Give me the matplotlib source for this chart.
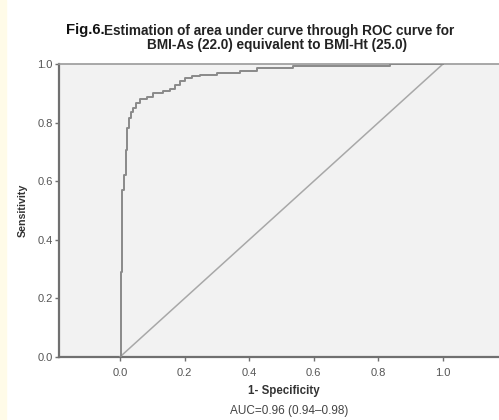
import matplotlib
matplotlib.use('Agg')
from matplotlib import pyplot as plt
from matplotlib.patches import Rectangle

plt.rcParams['font.family'] = ['Liberation Sans', 'DejaVu Sans']

# ROC curve points (1 - specificity, sensitivity)
fpr = [0.0, 0.003, 0.003, 0.008, 0.008, 0.013, 0.013, 0.018, 0.018, 0.023, 0.023,
       0.027, 0.027, 0.033, 0.033, 0.041, 0.041, 0.05, 0.05, 0.062, 0.062, 0.083,
       0.083, 0.103, 0.103, 0.134, 0.134, 0.155, 0.155, 0.17, 0.17, 0.186, 0.186,
       0.20, 0.20, 0.222, 0.222, 0.248, 0.248, 0.30, 0.30, 0.372, 0.372, 0.423,
       0.423, 0.536, 0.536, 0.836, 0.836, 1.0]
tpr = [0.0, 0.0, 0.29, 0.29, 0.57, 0.57, 0.62, 0.62, 0.707, 0.707, 0.78,
       0.78, 0.816, 0.816, 0.837, 0.837, 0.85, 0.85, 0.868, 0.868, 0.879, 0.879,
       0.888, 0.888, 0.902, 0.902, 0.908, 0.908, 0.914, 0.914, 0.928, 0.928, 0.943,
       0.943, 0.953, 0.953, 0.959, 0.959, 0.962, 0.962, 0.968, 0.968, 0.976, 0.976,
       0.985, 0.985, 0.993, 0.993, 1.0, 1.0]
ref_line = [0.0, 1.0]
ticks = [0.0, 0.2, 0.4, 0.6, 0.8, 1.0]
tick_labels = ['0.0', '0.2', '0.4', '0.6', '0.8', '1.0']

fig = plt.figure(figsize=(4.99, 4.2), dpi=100)
# cream strip down the left edge of the scanned figure
fig.patches.append(Rectangle((0, 0), 6 / 499, 1, transform=fig.transFigure,
                             color='#fffbe8', zorder=0))

ax = fig.add_axes([0.1192, 0.15, 0.898, 0.6976])
ax.set_facecolor('#f2f2f2')
ax.plot(ref_line, ref_line, color='#a8a8a8', lw=1.1, zorder=2)
ax.plot(fpr, tpr, color='#8a8a8a', lw=1.4, zorder=3)
ax.set_xlim(-0.187, 1.2)
ax.set_ylim(0, 1)

for side in ['left', 'bottom']:
    ax.spines[side].set_color('#707070')
    ax.spines[side].set_linewidth(1.6)
ax.spines['top'].set_color('#9a9a9a')
ax.spines['top'].set_linewidth(1.2)
ax.spines['right'].set_visible(False)

ax.set_xticks(ticks)
ax.set_xticklabels(tick_labels)
ax.set_yticks(ticks)
ax.set_yticklabels(tick_labels)
ax.tick_params(length=3, width=1, color='#707070', labelcolor='#555555',
               labelsize=8)
ax.tick_params(axis='x', pad=5)
ax.tick_params(axis='y', pad=2)

ax.set_ylabel('Sensitivity', fontsize=7.7, fontweight='bold', color='#333333', labelpad=7)
ax.set_xlabel('1- Specificity', fontsize=8.3, fontweight='bold', color='#333333', labelpad=5)

fig.text(66 / 499, 1 - 30 / 420, 'Fig.6.', fontsize=10.7, fontweight='bold',
         va='center', ha='left', color='#111111')
fig.text(104 / 499, 1 - 31.5 / 420, 'Estimation of area under curve through ROC curve for',
         fontsize=9.8, fontweight='bold', va='center', ha='left', color='#222222')
fig.text(277 / 499, 1 - 45 / 420, 'BMI-As (22.0) equivalent to BMI-Ht (25.0)',
         fontsize=9.8, fontweight='bold', va='center', ha='center', color='#222222')
fig.text(289 / 499, 1 - 411 / 420, 'AUC=0.96 (0.94\u20130.98)', fontsize=8.5,
         va='center', ha='center', color='#444444')

fig.savefig('out.png', dpi=100)
